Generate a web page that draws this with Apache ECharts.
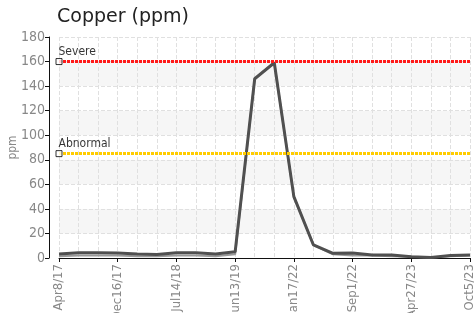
<!DOCTYPE html>
<html>
<head>
<meta charset="utf-8">
<script src="https://cdn.jsdelivr.net/npm/echarts@6/dist/echarts.min.js"></script>
<style>
  html, body { margin: 0; padding: 0; background: #fff; }
  #chart { width: 474px; height: 313px; }
</style>
</head>
<body>
<div id="chart"></div>
<script>
// sample dates (only every 3rd one is shown on the axis)
const dates = [
  'Apr8/17', '', '', 'Dec16/17', '', '', 'Jul14/18', '', '', 'Jun13/19', '',
  '', 'Jan17/22', '', '', 'Sep1/22', '', '', 'Apr27/23', '', '', 'Oct5/23'
]
const copper = [3.3, 4.3, 4.3, 4, 3.3, 2.8, 4.3, 4.3, 3.3, 5, 146, 159, 50, 10.6, 3.8, 4, 2.5, 2.5, 1, 0.5, 2, 2.5]
const copperLow = [1.5, 2, 2, 2, 1.5, 1.5, 2, 2, 1.5, 3, 146, 159, 50, 10.6, 3, 2, 2, 1.5, 1, 0.5, 1.5, 2]
const severeLimit = 160
const abnormalLimit = 85

const narrow = '"DejaVu Sans", sans-serif'

const chart = echarts.init(document.getElementById('chart'))

const limitMarker = (name, value) => ({
  type: 'scatter',
  data: [[0, value]],
  symbol: 'rect',
  symbolSize: 6,
  z: 5,
  itemStyle: { color: '#fff', borderColor: '#000', borderWidth: 1 },
  label: {
    show: true,
    formatter: name,
    position: [3, -12],
    color: '#000',
    fontStyle: 'condensed',
    fontFamily: narrow,
    fontSize: 12
  },
  silent: true
})

const options = {
  animation: false,
  title: {
    text: 'Copper (ppm)',
    left: 52,
    top: 3,
    textStyle: { fontFamily: '"DejaVu Sans", sans-serif', fontWeight: 'normal', fontSize: 19, color: '#222' }
  },
  grid: { left: 59, right: 4, top: 37, bottom: 55, outerBoundsMode: 'none' },
  xAxis: {
    type: 'category',
    data: dates,
    boundaryGap: false,
    axisLine: { lineStyle: { color: '#111' } },
    axisTick: { interval: 2, length: 4, lineStyle: { color: '#111' } },
    axisLabel: {
      interval: 2,
      rotate: 90,
      color: '#888',
      fontStyle: 'condensed',
      fontFamily: narrow,
      fontSize: 13,
      margin: 6
    },
    splitLine: { show: true, interval: 0, lineStyle: { color: '#e0e0e0', type: 'dashed' } }
  },
  yAxis: {
    type: 'value',
    min: 0,
    max: 180,
    interval: 20,
    offset: 10,
    name: 'ppm',
    nameLocation: 'middle',
    nameGap: 30,
    nameMoveOverlap: false,
    nameTextStyle: { color: '#888', fontStyle: 'condensed', fontFamily: narrow, fontSize: 12 },
    axisLine: { show: true, lineStyle: { color: '#111' } },
    axisTick: { show: true, length: 4, lineStyle: { color: '#111' } },
    axisLabel: { color: '#888', fontStyle: 'condensed', fontFamily: narrow, fontSize: 14, margin: 4 },
    splitLine: { lineStyle: { color: '#e0e0e0', type: 'dashed' } },
    splitArea: { show: true, areaStyle: { color: ['#fff', '#f6f6f6'] } }
  },
  series: [
    {
      type: 'line',
      data: copperLow,
      showSymbol: false,
      lineStyle: { color: '#999', width: 2 },
      silent: true
    },
    {
      type: 'line',
      data: copper,
      showSymbol: false,
      lineStyle: { color: '#505050', width: 3 },
      z: 3,
      silent: true,
      markLine: {
        silent: true,
        symbol: 'none',
        label: { show: false },
        data: [
          { yAxis: severeLimit, lineStyle: { color: '#ff1a1a', width: 3, type: [3, 1] } },
          { yAxis: abnormalLimit, lineStyle: { color: '#ffcc00', width: 3, type: [3, 1] } }
        ]
      }
    },
    limitMarker('Severe', severeLimit),
    limitMarker('Abnormal', abnormalLimit)
  ]
}

chart.setOption(options)
</script>
</body>
</html>
